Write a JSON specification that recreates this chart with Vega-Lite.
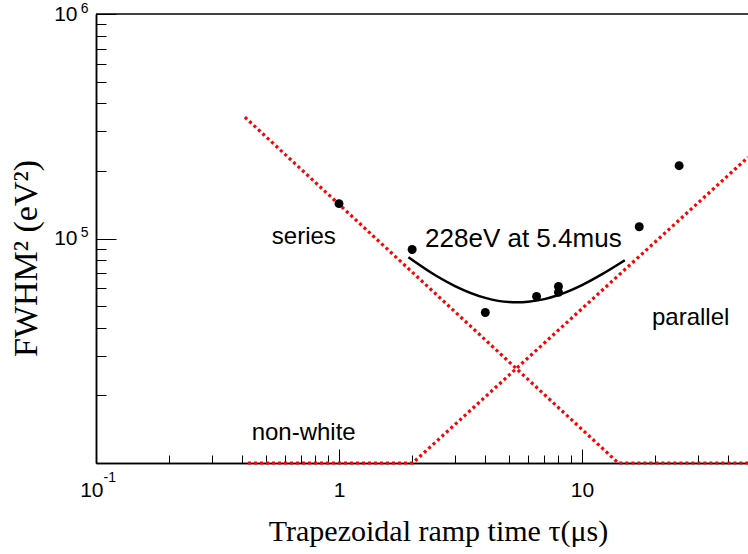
{
  "$schema": "https://vega.github.io/schema/vega-lite/v6.json",
  "width": 652,
  "height": 449,
  "autosize": {"type": "none"},
  "padding": {"left": 96, "top": 14, "right": 0, "bottom": 91},
  "background": "white",
  "config": {
    "view": {"stroke": null},
    "axis": {
      "grid": false,
      "domainColor": "black",
      "domainWidth": 1.5,
      "tickColor": "black",
      "tickWidth": 1,
      "labelColor": "black",
      "titleColor": "black",
      "labelFont": "Liberation Sans",
      "titleFont": "Liberation Serif",
      "titleFontWeight": "normal",
      "labelFlush": false,
      "labelOverlap": false,
      "labelBound": false
    }
  },
  "resolve": {"axis": {"x": "independent", "y": "independent"}},
  "layer": [
    {
      "data": {
        "values": [
          {"x": 0.41, "y": 347000, "g": "series"},
          {"x": 14.1, "y": 10000, "g": "series"},
          {"x": 48.2, "y": 10000, "g": "series"},
          {"x": 0.422, "y": 10000, "g": "parallel"},
          {"x": 2.01, "y": 10000, "g": "parallel"},
          {"x": 48.2, "y": 230000, "g": "parallel"}
        ]
      },
      "mark": {"type": "line", "color": "#ff0000", "strokeWidth": 3.2, "strokeDash": [3, 3], "strokeCap": "butt"},
      "encoding": {
        "x": {
          "field": "x",
          "type": "quantitative",
          "scale": {"type": "log", "domain": [0.1, 48.2], "nice": false},
          "axis": {
            "orient": "bottom",
            "title": null,
            "values": [0.2, 0.3, 0.4, 0.5, 0.6, 0.7, 0.8, 0.9, 2, 3, 4, 5, 6, 7, 8, 9, 20, 30, 40],
            "labels": false,
            "tickSize": -8
          }
        },
        "y": {
          "field": "y",
          "type": "quantitative",
          "scale": {"type": "log", "domain": [10000, 1000000], "nice": false},
          "axis": {
            "orient": "left",
            "title": null,
            "values": [20000, 30000, 40000, 50000, 60000, 70000, 80000, 90000, 200000, 300000, 400000, 500000, 600000, 700000, 800000, 900000],
            "labels": false,
            "tickSize": -10
          }
        },
        "detail": {"field": "g"}
      }
    },
    {
      "data": {
        "values": [
          {"x": 1.93, "y": 82500},
          {"x": 2.5, "y": 68400},
          {"x": 3, "y": 61400},
          {"x": 4, "y": 54400},
          {"x": 5, "y": 52100},
          {"x": 5.4, "y": 52000},
          {"x": 6, "y": 52300},
          {"x": 7, "y": 53700},
          {"x": 8, "y": 56000},
          {"x": 10, "y": 62000},
          {"x": 12, "y": 69000},
          {"x": 15, "y": 80000}
        ]
      },
      "mark": {"type": "line", "color": "black", "strokeWidth": 2.5, "interpolate": "monotone"},
      "encoding": {
        "x": {
          "field": "x",
          "type": "quantitative",
          "axis": {
            "orient": "bottom",
            "title": "Trapezoidal ramp time τ(μs)",
            "values": [1, 10],
            "labelExpr": "datum.value == 1 ? '1' : '10'",
            "tickSize": -14,
            "labelPadding": 30,
            "labelFontSize": 21,
            "titleFontSize": 30,
            "titleX": 342,
            "titleY": 77,
            "titleBaseline": "alphabetic",
            "titleAlign": "center",
            "titleAnchor": null
          }
        },
        "y": {
          "field": "y",
          "type": "quantitative",
          "axis": {
            "orient": "left",
            "title": "FWHM² (eV²)",
            "values": [100000, 1000000],
            "labelExpr": "'10'",
            "tickSize": -20,
            "labelPadding": 39,
            "labelFontSize": 21,
            "labelBaseline": "middle",
            "titleFontSize": 34,
            "titleAngle": -90,
            "titleX": -60,
            "titleY": 244,
            "titleBaseline": "alphabetic",
            "titleAlign": "center",
            "titleAnchor": null
          }
        }
      }
    },
    {
      "data": {
        "values": [
          {"x": 1.0, "y": 143000},
          {"x": 2.0, "y": 89300},
          {"x": 4.0, "y": 46800},
          {"x": 6.5, "y": 55200},
          {"x": 8.0, "y": 61100},
          {"x": 8.0, "y": 57600},
          {"x": 17.2, "y": 112800},
          {"x": 25.1, "y": 211000}
        ]
      },
      "mark": {"type": "point", "filled": true, "color": "black", "opacity": 1, "size": 80},
      "encoding": {
        "x": {
          "field": "x",
          "type": "quantitative",
          "axis": {
            "orient": "bottom",
            "title": null,
            "values": [0.1],
            "labelExpr": "'10'",
            "ticks": false,
            "domain": false,
            "labelAlign": "right",
            "labelOffset": 7,
            "labelPadding": 16,
            "labelFontSize": 21
          }
        },
        "y": {
          "field": "y",
          "type": "quantitative",
          "axis": {
            "orient": "left",
            "title": null,
            "values": [100000, 1000000],
            "labelExpr": "datum.value == 100000 ? '5' : '6'",
            "ticks": false,
            "domain": false,
            "labelAlign": "right",
            "labelBaseline": "middle",
            "labelOffset": -6,
            "labelPadding": 8,
            "labelFontSize": 14
          }
        }
      }
    },
    {
      "data": {
        "values": [
          {"x": 0.529, "y": 95000, "label": "series"},
          {"x": 19.4, "y": 41200, "label": "parallel"},
          {"x": 0.437, "y": 12630, "label": "non-white"}
        ]
      },
      "mark": {"type": "text", "align": "left", "baseline": "alphabetic", "font": "Liberation Sans", "fontSize": 24, "color": "black"},
      "encoding": {
        "x": {
          "field": "x",
          "type": "quantitative",
          "axis": {
            "orient": "bottom",
            "title": null,
            "values": [0.1],
            "labelExpr": "'-1'",
            "ticks": false,
            "domain": false,
            "labelAlign": "left",
            "labelOffset": 7,
            "labelPadding": 7,
            "labelFontSize": 14
          }
        },
        "y": {"field": "y", "type": "quantitative", "axis": null},
        "text": {"field": "label"}
      }
    },
    {
      "data": {
        "values": [
          {"x": 2.26, "y": 92100, "label": "228eV at 5.4mus"}
        ]
      },
      "mark": {"type": "text", "align": "left", "baseline": "alphabetic", "font": "Liberation Sans", "fontSize": 26, "color": "black"},
      "encoding": {
        "x": {"field": "x", "type": "quantitative", "axis": null},
        "y": {"field": "y", "type": "quantitative", "axis": null},
        "text": {"field": "label"}
      }
    },
    {
      "data": {"values": [{"top": 1000000}]},
      "mark": {"type": "rule", "color": "black", "strokeWidth": 1.5},
      "encoding": {
        "y": {"field": "top", "type": "quantitative", "axis": null}
      }
    }
  ]
}
